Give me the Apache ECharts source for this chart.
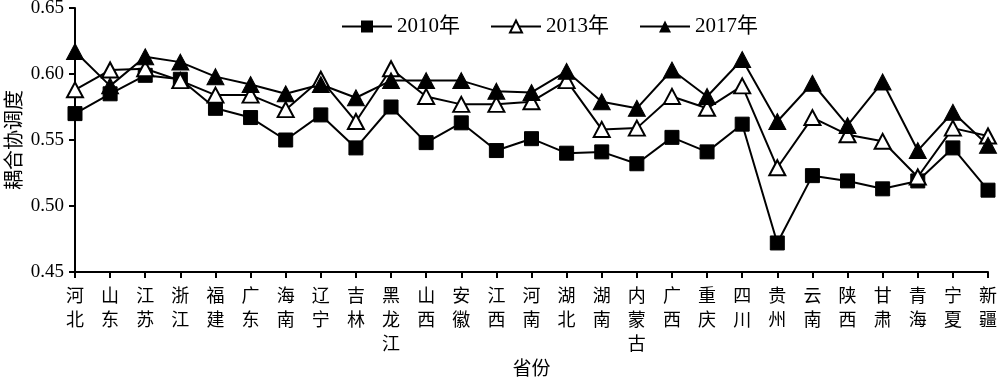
<!DOCTYPE html>
<html>
<head>
<meta charset="utf-8">
<script src="https://cdn.jsdelivr.net/npm/echarts@6/dist/echarts.min.js"></script>
<style>html,body{margin:0;padding:0;background:#fff}#c{width:1000px;height:379px}</style>
</head>
<body>
<div id="c"></div>
<script>
const provinces = ['河北','山东','江苏','浙江','福建','广东','海南','辽宁','吉林','黑龙江','山西','安徽','江西','河南','湖北','湖南','内蒙古','广西','重庆','四川','贵州','云南','陕西','甘肃','青海','宁夏','新疆'];
const y2010 = [0.570,0.585,0.599,0.596,0.574,0.567,0.550,0.569,0.544,0.575,0.548,0.563,0.542,0.551,0.540,0.541,0.532,0.552,0.541,0.562,0.472,0.523,0.519,0.513,0.519,0.544,0.512];
const y2013 = [0.588,0.603,0.604,0.595,0.584,0.584,0.573,0.596,0.564,0.604,0.583,0.577,0.577,0.579,0.595,0.558,0.559,0.583,0.574,0.591,0.529,0.567,0.554,0.549,0.522,0.559,0.553];
const y2017 = [0.617,0.591,0.613,0.609,0.598,0.592,0.585,0.592,0.582,0.595,0.595,0.595,0.587,0.586,0.602,0.579,0.574,0.603,0.583,0.611,0.564,0.593,0.561,0.594,0.542,0.571,0.546];
const seriesNames = ['2010年','2013年','2017年'];
const serif = '"Liberation Serif","DejaVu Serif","Noto Sans CJK SC",serif';
const cjk = '"Noto Sans CJK SC",sans-serif';

const chart = echarts.init(document.getElementById('c'));
const lineStyle = {color:'#000', width:2};
chart.setOption({
  animation:false,
  backgroundColor:'#fff',
  grid:{left:75, right:12, top:8, bottom:107, containLabel:false, outerBoundsMode:'none'},
  legend:{
    top:11, left:336, itemGap:30, itemWidth:50, itemHeight:15,
    textStyle:{fontFamily:serif, fontSize:21, color:'#000'},
    data:seriesNames
  },
  xAxis:{
    type:'category', data:provinces, boundaryGap:false,
    name:'省份', nameLocation:'middle', nameGap:86, nameMoveOverlap:false,
    nameTextStyle:{fontFamily:cjk, fontSize:19, color:'#000'},
    axisLine:{lineStyle:{color:'#000', width:2}},
    axisTick:{show:true, alignWithLabel:true, interval:0, length:6, lineStyle:{color:'#000', width:2}},
    axisLabel:{interval:0, margin:11, fontFamily:cjk, fontSize:18, lineHeight:24, color:'#000',
      formatter:v=>v.split('').join('\n')},
    splitLine:{show:false}
  },
  yAxis:{
    type:'value', min:0.45, max:0.65, interval:0.05,
    name:'耦合协调度', nameLocation:'middle', nameGap:52, nameRotate:90, nameMoveOverlap:false,
    nameTextStyle:{fontFamily:cjk, fontSize:20, color:'#000'},
    axisLine:{show:true, lineStyle:{color:'#000', width:2}},
    axisTick:{show:true, length:6, lineStyle:{color:'#000', width:2}},
    axisLabel:{fontFamily:serif, fontSize:19, color:'#000', margin:11, formatter:v=>v.toFixed(2)},
    splitLine:{show:false}
  },
  series:[
    {name:seriesNames[0], type:'line', data:y2010, symbol:'rect', symbolSize:14,
     lineStyle, itemStyle:{color:'#000', borderColor:'#000'}},
    {name:seriesNames[1], type:'line', data:y2013, symbol:'triangle', symbolSize:[16,15],
     lineStyle, itemStyle:{color:'#fff', borderColor:'#000', borderWidth:2}},
    {name:seriesNames[2], type:'line', data:y2017, symbol:'triangle', symbolSize:[17,16],
     lineStyle, itemStyle:{color:'#000', borderColor:'#000'}}
  ]
});
</script>
</body>
</html>
